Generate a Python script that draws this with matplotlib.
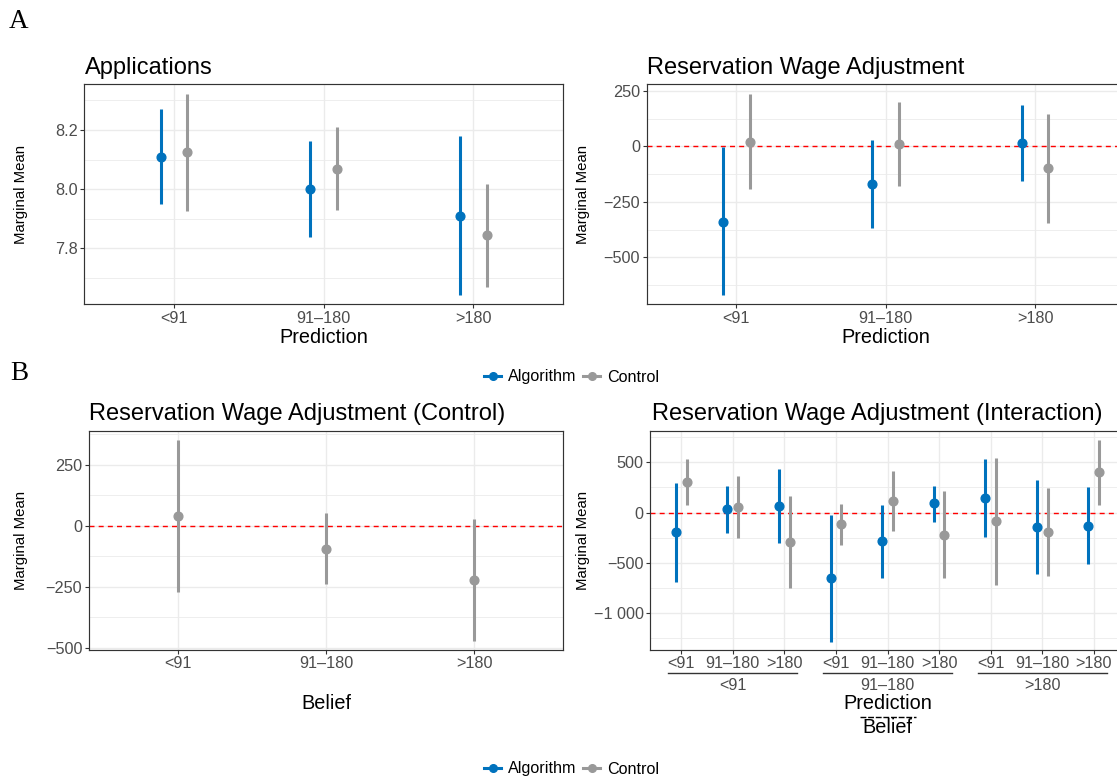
import matplotlib
matplotlib.use("Agg")
import matplotlib.pyplot as plt
from matplotlib.lines import Line2D
from matplotlib.transforms import blended_transform_factory
import numpy as np

plt.rcParams["font.family"] = ["Liberation Sans", "DejaVu Sans"]

# ---------------- data ----------------
categories = ["<91", "91\u2013180", ">180"]
series_names = ["Algorithm", "Control"]

# Applications by prediction
app_alg_mean = [8.109, 8.000, 7.910]
app_alg_low = [7.951, 7.838, 7.641]
app_alg_high = [8.269, 8.161, 8.180]
app_ctl_mean = [8.125, 8.069, 7.844]
app_ctl_low = [7.927, 7.929, 7.671]
app_ctl_high = [8.321, 8.209, 8.017]

# Reservation wage adjustment by prediction
rw_alg_mean = [-339, -170, 15]
rw_alg_low = [-670, -366, -157]
rw_alg_high = [-4, 28, 184]
rw_ctl_mean = [21, 9, -98]
rw_ctl_low = [-193, -180, -343]
rw_ctl_high = [234, 199, 145]

# Reservation wage adjustment by belief (control group)
bel_ctl_mean = [42, -93, -222]
bel_ctl_low = [-269, -239, -472]
bel_ctl_high = [352, 54, 27]

# Interaction: prediction within belief groups
int_alg_mean = [-193, 33, 67, -653, -287, 90, 143, -143, -133]
int_alg_low = [-687, -200, -303, -1287, -653, -93, -240, -617, -513]
int_alg_high = [293, 260, 437, -20, 77, 267, 530, 323, 250]
int_ctl_mean = [307, 53, -297, -117, 113, -223, -83, -193, 400]
int_ctl_low = [73, -257, -753, -327, -183, -653, -717, -630, 77]
int_ctl_high = [537, 367, 160, 87, 410, 210, 547, 243, 727]

# ---------------- style ----------------
BLUE = "#0072BD"
GREY = "#999999"
GRID = "#EBEBEB"
BORDER = "#333333"
TICKTXT = "#4D4D4D"

W, H = 1117, 779
fig = plt.figure(figsize=(W / 100, H / 100), dpi=100)


def px_axes(x0, y0, x1, y1):
    return fig.add_axes([x0 / W, 1 - y1 / H, (x1 - x0) / W, (y1 - y0) / H])


def fy(y):
    return 1 - y / H


def style(ax, xlim, ylim, major, labels, minor, xticklabels):
    ax.set_xlim(*xlim)
    ax.set_ylim(*ylim)
    ax.set_xticks(np.arange(1, len(xticklabels) + 1))
    ax.set_xticklabels(xticklabels)
    ax.set_yticks(major)
    ax.set_yticklabels(labels)
    ax.set_yticks(minor, minor=True)
    ax.grid(True, which="major", color=GRID, lw=1.0)
    ax.grid(True, which="minor", axis="y", color=GRID, lw=0.6)
    ax.set_axisbelow(True)
    for s in ax.spines.values():
        s.set_color(BORDER)
        s.set_linewidth(0.85)
    ax.tick_params(which="major", length=2.6, width=0.8, color=BORDER,
                   labelcolor=TICKTXT, labelsize=11.7, pad=2.2)
    ax.tick_params(which="minor", length=0)


def pointrange(ax, x, mean, low, high, color):
    ax.vlines(x, low, high, color=color, lw=2.2, zorder=3)
    ax.plot(x, mean, "o", color=color, ms=6.3, zorder=4, mec=color)


def zero_line(ax):
    ax.axhline(0, color="red", lw=1.0, ls=(0, (3.6, 3.0)), zorder=2.5)


def neg(v):
    return ("\u2212" + format(-v, ",").replace(",", " ")) if v < 0 else format(v, ",").replace(",", " ")


x3 = np.arange(1, 4)
x9 = np.arange(1, 10)

# ---------------- A: Applications ----------------
ax1 = px_axes(84.3, 84.3, 563, 304.3)
d = 0.089
pointrange(ax1, x3 - d, app_alg_mean, app_alg_low, app_alg_high, BLUE)
pointrange(ax1, x3 + d, app_ctl_mean, app_ctl_low, app_ctl_high, GREY)
style(ax1, (0.4, 3.6), (7.611, 8.354), [7.8, 8.0, 8.2], ["7.8", "8.0", "8.2"],
      [7.7, 7.9, 8.1, 8.3], categories)
fig.text(85 / W, fy(74), "Applications", fontsize=17, ha="left", va="baseline")
fig.text(323.7 / W, fy(337.3), "Prediction", fontsize=14.3, ha="center", va="center")
fig.text(21 / W, fy(194.3), "Marginal Mean", fontsize=10.8, rotation=90, ha="center", va="center")

# ---------------- A: Reservation wage ----------------
ax2 = px_axes(646.7, 84.3, 1124.7, 304.3)
zero_line(ax2)
pointrange(ax2, x3 - d, rw_alg_mean, rw_alg_low, rw_alg_high, BLUE)
pointrange(ax2, x3 + d, rw_ctl_mean, rw_ctl_low, rw_ctl_high, GREY)
t = [-500, -250, 0, 250]
style(ax2, (0.4, 3.6), (-711, 279), t, [neg(v) for v in t],
      [-625, -375, -125, 125], categories)
fig.text(647 / W, fy(74), "Reservation Wage Adjustment", fontsize=17, ha="left", va="baseline")
fig.text(885.7 / W, fy(337.3), "Prediction", fontsize=14.3, ha="center", va="center")
fig.text(583 / W, fy(194.3), "Marginal Mean", fontsize=10.8, rotation=90, ha="center", va="center")

# ---------------- B: Control by belief ----------------
ax3 = px_axes(89, 430.7, 563, 649.7)
zero_line(ax3)
pointrange(ax3, x3, bel_ctl_mean, bel_ctl_low, bel_ctl_high, GREY)
style(ax3, (0.4, 3.6), (-507, 389), t, [neg(v) for v in t],
      [-375, -125, 125, 375], categories)
fig.text(89 / W, fy(420), "Reservation Wage Adjustment (Control)", fontsize=17,
         ha="left", va="baseline")
fig.text(326 / W, fy(703.3), "Belief", fontsize=14.3, ha="center", va="center")
fig.text(21 / W, fy(540.2), "Marginal Mean", fontsize=10.8, rotation=90, ha="center", va="center")

# ---------------- B: Interaction ----------------
ax4 = px_axes(650.3, 430.7, 1124.7, 649.7)
zero_line(ax4)
d9 = 0.103
pointrange(ax4, x9 - d9, int_alg_mean, int_alg_low, int_alg_high, BLUE)
pointrange(ax4, x9 + d9, int_ctl_mean, int_ctl_low, int_ctl_high, GREY)
t4 = [-1000, -500, 0, 500]
style(ax4, (0.4, 9.6), (-1366, 815), t4, [neg(v) for v in t4],
      [-1250, -750, -250, 250, 750], categories * 3)
fig.text(652 / W, fy(420), "Reservation Wage Adjustment (Interaction)", fontsize=17,
         ha="left", va="baseline")
fig.text(583 / W, fy(540.2), "Marginal Mean", fontsize=10.8, rotation=90, ha="center", va="center")

# nested belief groups under the prediction ticks
trans = blended_transform_factory(ax4.transData, fig.transFigure)
for g, name in enumerate(categories):
    first, last = 3 * g + 1, 3 * g + 3
    fig.add_artist(Line2D([first - 0.25, last + 0.25], [fy(673.3)] * 2,
                          transform=trans, color=BORDER, lw=1.0, clip_on=False))
    fig.text((first + last) / 2, fy(685.5), name, transform=trans, fontsize=11.7,
             color=TICKTXT, ha="center", va="center")

xc = 887.5
fig.text(xc / W, fy(703.3), "Prediction", fontsize=14.3, ha="center", va="center")
fig.add_artist(Line2D([(xc - 28) / W, (xc + 28) / W], [fy(716.7)] * 2,
                      transform=fig.transFigure, color="black", lw=1.0,
                      ls=(0, (4.2, 1.3))))
fig.text(xc / W, fy(727.5), "Belief", fontsize=14.3, ha="center", va="center")

# ---------------- panel letters ----------------
fig.text(19 / W, fy(22), "A", fontsize=19.5, family="Liberation Serif", ha="center", va="center")
fig.text(19 / W, fy(374), "B", fontsize=19.5, family="Liberation Serif", ha="center", va="center")

# ---------------- legends ----------------
handles = [Line2D([0], [0], color=BLUE, lw=2.2, marker="o", ms=5.5),
           Line2D([0], [0], color=GREY, lw=2.2, marker="o", ms=5.5)]
for ly in (377, 769):
    fig.legend(handles, series_names, loc="center", bbox_to_anchor=(572 / W, fy(ly)),
               ncol=2, frameon=False, fontsize=11.6, handlelength=1.05,
               handletextpad=0.45, columnspacing=0.4, borderpad=0, borderaxespad=0)

fig.savefig("out.png", dpi=100)
